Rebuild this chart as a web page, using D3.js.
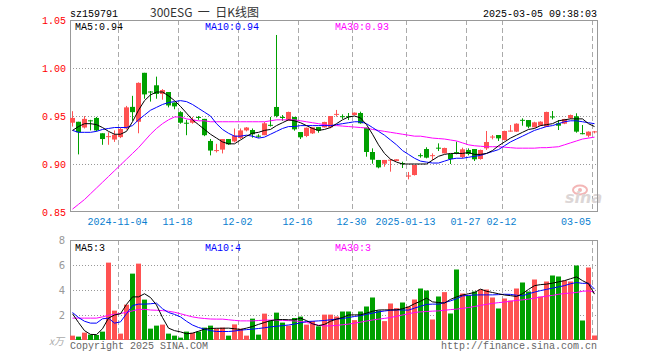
<!DOCTYPE html>
<html>
<head>
<meta charset="utf-8">
<script src="https://cdn.jsdelivr.net/npm/d3@7"></script>
<style>
body { margin: 0; background: #fff; }
svg text { font-family: "Liberation Mono", "DejaVu Sans Mono", monospace; font-size: 10px; }
</style>
</head>
<body>
<svg id="drawing_region"></svg>
<script>
const code = 'sz159791';
const title = '300ESG  一  日K线图';
const stamp = '2025-03-05 09:38:03';

const tickIndex = [8, 18, 28, 38, 47, 56, 66, 72, 87];
const tickLabels = ['2024-11-04', '11-18', '12-02', '12-16', '12-30', '2025-01-13', '01-27', '02-12', '03-05'];
const priceTicks = [0.85, 0.90, 0.95, 1.00, 1.05];
const volTicks = [2, 4, 6, 8];

const open = [0.943,0.944,0.938,0.9455,0.948,0.932,0.9285,0.9255,0.928,0.937,
0.9595,0.944,0.995,0.9755,0.982,0.973,0.975,0.964,0.954,0.943,
0.943,0.949,0.947,0.924,0.914,0.915,0.926,0.9235,0.927,0.935,
0.9354,0.9295,0.930,0.9408,0.9594,0.949,0.9451,0.949,0.9333,0.9292,
0.9319,0.9385,0.9382,0.9382,0.952,0.9498,0.9498,0.951,0.9531,0.9378,
0.9125,0.9042,0.9003,0.9042,0.9031,0.901,0.8875,0.8885,0.9092,0.9156,
0.9088,0.917,0.9111,0.9104,0.9124,0.9073,0.9146,0.9156,0.9052,0.9163,
0.9283,0.9302,0.925,0.9345,0.9337,0.946,0.9458,0.9382,0.9399,0.9389,
0.9495,0.9424,0.942,0.9476,0.9497,0.9321,0.9295,0.9336];

const high = [0.955,0.944,0.950,0.946,0.949,0.932,0.933,0.935,0.938,0.9605,
0.971,0.985,0.995,0.976,0.991,0.978,0.975,0.964,0.955,0.946,
0.949,0.950,0.947,0.926,0.921,0.926,0.926,0.937,0.937,0.9385,
0.937,0.931,0.9438,0.949,1.0344,0.951,0.9545,0.949,0.9333,0.938,
0.9382,0.9385,0.944,0.950,0.9563,0.9517,0.9531,0.9537,0.9545,0.9378,
0.9163,0.9042,0.9042,0.9049,0.9049,0.9024,0.8917,0.899,0.9111,0.9174,
0.9111,0.9215,0.917,0.9104,0.9233,0.917,0.9163,0.9156,0.915,0.9344,
0.9302,0.9302,0.9347,0.9406,0.9424,0.9476,0.9458,0.944,0.9445,0.9545,
0.9552,0.9458,0.947,0.9515,0.9528,0.9406,0.934,0.9344];

const low = [0.939,0.910,0.937,0.935,0.934,0.920,0.920,0.923,0.927,0.936,
0.945,0.932,0.968,0.965,0.968,0.967,0.959,0.957,0.942,0.930,
0.942,0.946,0.929,0.909,0.912,0.911,0.920,0.9225,0.926,0.934,
0.9274,0.9274,0.930,0.939,0.9486,0.945,0.945,0.9347,0.926,0.928,
0.9313,0.9326,0.938,0.9372,0.9493,0.9469,0.9458,0.9508,0.942,0.9076,
0.9003,0.8955,0.8972,0.892,0.903,0.8958,0.884,0.888,0.9066,0.9059,
0.9042,0.9135,0.911,0.900,0.9101,0.9059,0.909,0.9031,0.9045,0.9146,
0.9257,0.924,0.9245,0.9337,0.9333,0.9399,0.9372,0.938,0.9395,0.9385,
0.9465,0.9354,0.9415,0.947,0.9326,0.9309,0.9278,0.9319];

const close = [0.948,0.933,0.947,0.945,0.935,0.926,0.929,0.9305,0.9365,0.959,
0.954,0.9845,0.9725,0.975,0.973,0.977,0.961,0.960,0.943,0.9425,
0.946,0.9485,0.930,0.914,0.9145,0.926,0.9205,0.9295,0.935,0.938,
0.931,0.929,0.9424,0.9403,0.950,0.9487,0.9542,0.9361,0.9278,0.9378,
0.9382,0.9347,0.9438,0.950,0.9522,0.9495,0.9495,0.9535,0.9424,0.9125,
0.9045,0.8965,0.9042,0.9045,0.9049,0.9007,0.888,0.899,0.9088,0.9066,
0.9092,0.9168,0.9167,0.9052,0.912,0.9153,0.9104,0.9049,0.9146,0.9229,
0.9286,0.9267,0.9344,0.9348,0.942,0.9456,0.9389,0.9434,0.9441,0.9542,
0.9492,0.9399,0.9469,0.951,0.9337,0.9318,0.9337,0.934];

// volume, 10k lots
const volume = [0.35,0.27,0.59,0.43,0.40,0.67,6.19,2.35,0.51,2.83,
5.31,6.11,3.23,0.91,1.15,1.23,0.51,0.35,0.19,0.67,
0.57,0.67,0.99,1.15,0.93,0.99,0.35,1.25,0.91,0.35,
1.71,0.43,2.11,1.57,2.19,1.39,1.15,1.76,1.87,1.23,
1.52,1.09,2.03,2.03,1.88,2.28,2.28,1.59,2.28,2.68,
3.40,2.36,1.51,2.92,2.55,3.00,2.68,3.24,4.12,3.96,
1.64,3.48,3.83,2.12,5.64,3.72,3.56,3.88,4.04,4.04,
3.40,2.52,3.32,3.16,4.12,4.60,3.88,4.84,3.48,4.68,
5.16,5.08,4.76,4.68,5.96,1.56,5.80,0.36];

const ma5 = [0.935,0.939,0.942,0.942,0.941,0.938,0.934,0.931,0.931,0.934,
0.944,0.956,0.966,0.972,0.975,0.975,0.971,0.966,0.960,0.953,
0.946,0.941,0.936,0.931,0.927,0.923,0.921,0.921,0.925,0.929,
0.932,0.933,0.935,0.936,0.940,0.943,0.946,0.945,0.943,0.940,
0.937,0.935,0.936,0.938,0.942,0.946,0.949,0.950,0.948,0.941,
0.931,0.920,0.911,0.905,0.902,0.900,0.900,0.900,0.900,0.900,
0.904,0.908,0.910,0.911,0.911,0.911,0.912,0.910,0.910,0.911,
0.914,0.919,0.923,0.927,0.930,0.933,0.936,0.937,0.940,0.941,
0.942,0.945,0.946,0.947,0.947,0.947,0.942,0.939];

const ma10 = [0.935,0.933,0.933,0.933,0.934,0.936,0.937,0.938,0.938,0.938,
0.940,0.946,0.951,0.956,0.959,0.962,0.964,0.965,0.966,0.965,
0.962,0.958,0.954,0.950,0.942,0.936,0.932,0.929,0.929,0.930,
0.929,0.927,0.928,0.931,0.934,0.937,0.939,0.939,0.940,0.940,
0.940,0.940,0.940,0.940,0.941,0.942,0.943,0.944,0.944,0.942,
0.938,0.934,0.930,0.925,0.920,0.914,0.910,0.906,0.903,0.902,
0.901,0.901,0.903,0.905,0.906,0.906,0.907,0.908,0.909,0.911,
0.913,0.915,0.919,0.923,0.926,0.929,0.932,0.935,0.937,0.939,
0.940,0.942,0.944,0.945,0.945,0.944,0.943,0.942];

const ma30 = [0.853,0.858,0.863,0.869,0.875,0.881,0.887,0.893,0.899,0.905,
0.911,0.917,0.924,0.931,0.937,0.942,0.946,0.949,0.949,0.947,
0.946,0.945,0.945,0.944,0.944,0.944,0.944,0.944,0.944,0.944,
0.944,0.944,0.944,0.945,0.946,0.946,0.946,0.946,0.945,0.944,
0.943,0.942,0.941,0.940,0.940,0.9395,0.939,0.9385,0.938,0.9375,
0.936,0.935,0.934,0.933,0.932,0.931,0.930,0.929,0.929,0.928,
0.927,0.9265,0.926,0.925,0.924,0.922,0.920,0.919,0.9185,0.918,
0.918,0.918,0.9175,0.917,0.9165,0.9165,0.9165,0.9165,0.917,0.917,
0.9175,0.918,0.920,0.922,0.924,0.926,0.927,0.928];

const vma5 = [2.1,1.4,0.75,0.45,0.43,0.9,1.75,2.0,2.1,2.85,
3.45,3.45,3.7,3.4,2.8,1.8,0.95,0.75,0.65,0.5,
0.55,0.7,0.87,0.92,0.94,0.94,0.95,0.9,0.84,0.95,
1.08,1.25,1.4,1.55,1.62,1.64,1.62,1.61,1.75,1.55,
1.3,1.15,1.25,1.5,1.67,1.8,2.0,2.01,2.01,2.15,
2.3,2.4,2.41,2.41,2.41,2.5,2.65,2.9,3.1,3.35,
3.05,3.0,2.95,3.25,3.45,3.6,3.7,3.8,4.07,3.9,
3.8,3.7,3.6,3.55,3.48,3.7,4.05,4.35,4.43,4.47,
4.55,4.65,4.75,4.9,5.05,4.75,4.5,3.67];

const vma10 = [2.2,1.8,1.5,1.35,1.35,1.7,1.75,1.35,1.45,2.1,
2.75,2.87,2.87,2.9,2.95,2.5,2.2,2.05,1.85,1.5,
1.2,1.0,0.87,0.75,0.68,0.68,0.68,0.72,0.79,0.83,
0.87,0.92,0.98,1.05,1.1,1.15,1.2,1.27,1.37,1.48,
1.5,1.53,1.56,1.62,1.67,1.72,1.8,1.88,1.95,2.05,
2.15,2.25,2.32,2.38,2.41,2.4,2.39,2.55,2.7,2.85,
2.87,2.87,3.0,3.13,3.3,3.53,3.57,3.6,3.61,3.61,
3.61,3.63,3.66,3.65,3.58,3.53,3.7,3.83,3.95,4.05,
4.15,4.25,4.35,4.5,4.6,4.53,4.55,4.07];

const vma30 = [1.75,1.75,1.75,1.75,1.75,1.85,1.98,2.05,2.12,2.22,
2.33,2.45,2.45,2.4,2.38,2.35,2.3,2.22,2.1,1.97,
1.85,1.77,1.72,1.68,1.67,1.67,1.62,1.57,1.53,1.53,
1.53,1.56,1.59,1.59,1.59,1.57,1.55,1.53,1.48,1.4,
1.3,1.18,1.13,1.13,1.17,1.22,1.27,1.35,1.43,1.52,
1.6,1.67,1.73,1.8,1.9,2.0,2.1,2.2,2.25,2.28,
2.31,2.33,2.38,2.43,2.47,2.53,2.6,2.68,2.77,2.85,
2.93,2.99,3.04,3.1,3.17,3.21,3.27,3.35,3.43,3.51,
3.57,3.66,3.72,3.76,3.8,3.9,3.93,3.85];

const UP = '#ff5252', DOWN = '#00a000';
const C5 = '#000000', C10 = '#0000ff', C30 = '#ff00ff';

class KChart {
    constructor(config) {
        this.config = {
            parent: config.parent,
            width: config.width || 660,
            height: config.height || 360,
            left: 70, right: 597,
            price: {top: 20, bottom: 212},
            vol: {top: 240, bottom: 340}
        };
        this.data = open.map((o, i) => ({
            i: i, o: o, h: high[i], l: low[i], c: close[i], v: volume[i]
        }));
        this.init();
    }

    init() {
        let self = this;
        const cf = self.config;

        self.svg = d3.select(cf.parent)
            .attr('width', cf.width)
            .attr('height', cf.height);

        self.xscale = d3.scaleBand()
            .domain(d3.range(self.data.length))
            .range([cf.left - 0.5, cf.right + 0.5])
            .paddingInner(1 / 6)
            .paddingOuter(1 / 12);

        self.yscale = d3.scaleLinear()
            .domain([0.85, 1.05])
            .range([cf.price.bottom, cf.price.top]);

        self.vscale = d3.scaleLinear()
            .domain([0, 8])
            .range([cf.vol.bottom, cf.vol.top]);

        self.grid = self.svg.append('g');
        self.marks = self.svg.append('g');
        self.texts = self.svg.append('g');
    }

    update() {
        let self = this;
        self.cx = i => self.xscale(i) + self.xscale.bandwidth() / 2;
        self.render();
    }

    render() {
        let self = this;
        const cf = self.config;
        const bw = self.xscale.bandwidth();

        // dotted horizontal grid
        self.grid.selectAll('.hp')
            .data([0.90, 0.95, 1.00])
            .join('line')
            .attr('x1', cf.left).attr('x2', cf.right)
            .attr('y1', d => Math.round(self.yscale(d)) + 0.5)
            .attr('y2', d => Math.round(self.yscale(d)) + 0.5)
            .attr('stroke', '#999').attr('stroke-dasharray', '1,2');

        self.grid.selectAll('.hv')
            .data([2, 4, 6])
            .join('line')
            .attr('x1', cf.left).attr('x2', cf.right)
            .attr('y1', d => Math.round(self.vscale(d)) + 0.5)
            .attr('y2', d => Math.round(self.vscale(d)) + 0.5)
            .attr('stroke', '#999').attr('stroke-dasharray', '1,2');

        // dashed date lines in both panels
        [cf.price, cf.vol].forEach(p => {
            self.grid.append('g').selectAll('line')
                .data(tickIndex)
                .join('line')
                .attr('x1', d => self.xscale(d) + 0.5)
                .attr('x2', d => self.xscale(d) + 0.5)
                .attr('y1', p.top).attr('y2', p.bottom)
                .attr('stroke', '#aaa').attr('stroke-dasharray', '5,3');
        });

        // sina mark
        const logo = self.grid.append('g');
        logo.append('ellipse')
            .attr('cx', 580).attr('cy', 190).attr('rx', 7).attr('ry', 4.5)
            .attr('fill', 'none').attr('stroke', '#f3b6b6').attr('stroke-width', 2);
        logo.append('circle')
            .attr('cx', 580).attr('cy', 190).attr('r', 2)
            .attr('fill', '#f3b6b6');
        logo.append('text')
            .attr('x', 565).attr('y', 203)
            .style('font-family', 'DejaVu Sans').style('font-size', '16px')
            .style('font-style', 'italic').style('font-weight', 'bold')
            .attr('fill', '#dcd6d6')
            .text('sina');

        // frames
        [cf.price, cf.vol].forEach(p => {
            self.grid.append('rect')
                .attr('x', cf.left + 0.5).attr('y', p.top + 0.5)
                .attr('width', cf.right - cf.left).attr('height', p.bottom - p.top - 1)
                .attr('fill', 'none').attr('stroke', '#999');
        });

        const color = d => d.c >= d.o ? UP : DOWN;

        // candles
        self.marks.selectAll('.wick')
            .data(self.data)
            .join('line')
            .attr('class', 'wick')
            .attr('x1', d => self.cx(d.i)).attr('x2', d => self.cx(d.i))
            .attr('y1', d => self.yscale(d.h))
            .attr('y2', d => self.yscale(d.l))
            .attr('stroke', color);

        self.marks.selectAll('.body')
            .data(self.data)
            .join('rect')
            .attr('class', 'body')
            .attr('x', d => self.xscale(d.i))
            .attr('width', bw)
            .attr('y', d => self.yscale(Math.max(d.o, d.c)))
            .attr('height', d => Math.max(1, Math.abs(self.yscale(d.o) - self.yscale(d.c))))
            .attr('fill', color);

        // volume bars
        self.marks.selectAll('.vbar')
            .data(self.data)
            .join('rect')
            .attr('class', 'vbar')
            .attr('x', d => self.xscale(d.i))
            .attr('width', bw)
            .attr('y', d => self.vscale(d.v))
            .attr('height', d => self.vscale(0) - self.vscale(d.v))
            .attr('fill', color);

        // moving averages
        const pline = d3.line().x((d, i) => self.cx(i)).y(d => self.yscale(d));
        const vline = d3.line().x((d, i) => self.cx(i)).y(d => self.vscale(d));
        [[ma30, C30], [ma10, C10], [ma5, C5]].forEach(([s, c]) => {
            self.marks.append('path').attr('d', pline(s))
                .attr('fill', 'none').attr('stroke', c).attr('stroke-width', 1);
        });
        [[vma30, C30], [vma10, C10], [vma5, C5]].forEach(([s, c]) => {
            self.marks.append('path').attr('d', vline(s))
                .attr('fill', 'none').attr('stroke', c).attr('stroke-width', 1);
        });

        // y axes
        const yaxis = d3.axisLeft(self.yscale)
            .tickValues(priceTicks)
            .tickFormat(d3.format('.2f'))
            .tickSize(0).tickPadding(4);
        const yg = self.texts.append('g')
            .attr('transform', `translate(${cf.left}, 0)`)
            .call(yaxis);
        yg.select('.domain').remove();
        yg.selectAll('text')
            .attr('fill', '#ff0000')
            .style('font-family', '"Liberation Mono", monospace')
            .style('font-size', '10px');

        const vaxis = d3.axisLeft(self.vscale)
            .tickValues(volTicks)
            .tickFormat(d3.format('d'))
            .tickSize(0).tickPadding(5);
        const vg = self.texts.append('g')
            .attr('transform', `translate(${cf.left}, 0)`)
            .call(vaxis);
        vg.select('.domain').remove();
        vg.selectAll('text')
            .attr('fill', '#999')
            .style('font-family', '"DejaVu Sans", sans-serif')
            .style('font-size', '10px');

        self.texts.append('text')
            .attr('x', 64).attr('y', 345)
            .attr('text-anchor', 'end')
            .attr('fill', '#aaa')
            .style('font-family', '"Noto Sans CJK SC", sans-serif')
            .style('font-size', '10px')
            .style('font-style', 'italic')
            .text('x万');

        // date labels
        self.texts.selectAll('.date')
            .data(tickIndex)
            .join('text')
            .attr('class', 'date')
            .attr('x', (d, i) => {
                const w = tickLabels[i].length * 6;
                return Math.min(self.xscale(d) - 0.5, 591 - w / 2);
            })
            .attr('y', 225)
            .attr('text-anchor', 'middle')
            .attr('fill', '#0a80d0')
            .text((d, i) => tickLabels[i]);

        // header
        self.texts.append('text')
            .attr('x', 70).attr('y', 16.5).attr('fill', '#000').text(code);
        self.texts.append('text')
            .attr('x', 150).attr('y', 16.5)
            .attr('fill', '#333')
            .style('font-family', '"Noto Sans CJK SC", sans-serif')
            .style('font-size', '12px')
            .style('white-space', 'pre')
            .text(title);
        self.texts.append('text')
            .attr('x', 597).attr('y', 16.5)
            .attr('text-anchor', 'end').attr('fill', '#000').text(stamp);

        // legends
        const last = a => a[a.length - 1];
        const f2 = d3.format('.2f');
        const legend = (y, items) => {
            self.texts.selectAll(null)
                .data(items)
                .join('text')
                .attr('x', d => d[0]).attr('y', y)
                .attr('fill', d => d[2])
                .text(d => d[1]);
        };
        legend(29.5, [
            [75, 'MA5:' + f2(last(ma5)), C5],
            [205, 'MA10:' + f2(last(ma10)), C10],
            [335, 'MA30:' + f2(last(ma30)), C30]
        ]);
        legend(250.5, [
            [75, 'MA5:' + Math.floor(last(vma5)), C5],
            [205, 'MA10:' + Math.floor(last(vma10)), C10],
            [335, 'MA30:' + Math.floor(last(vma30)), C30]
        ]);

        // footer
        self.texts.append('text')
            .attr('x', 70).attr('y', 349).attr('fill', '#666')
            .text('Copyright 2025 SINA.COM');
        self.texts.append('text')
            .attr('x', 597).attr('y', 349).attr('text-anchor', 'end').attr('fill', '#666')
            .text('http://finance.sina.com.cn');
    }
}

const chart = new KChart({parent: '#drawing_region', width: 660, height: 360});
chart.update();
</script>
</body>
</html>
